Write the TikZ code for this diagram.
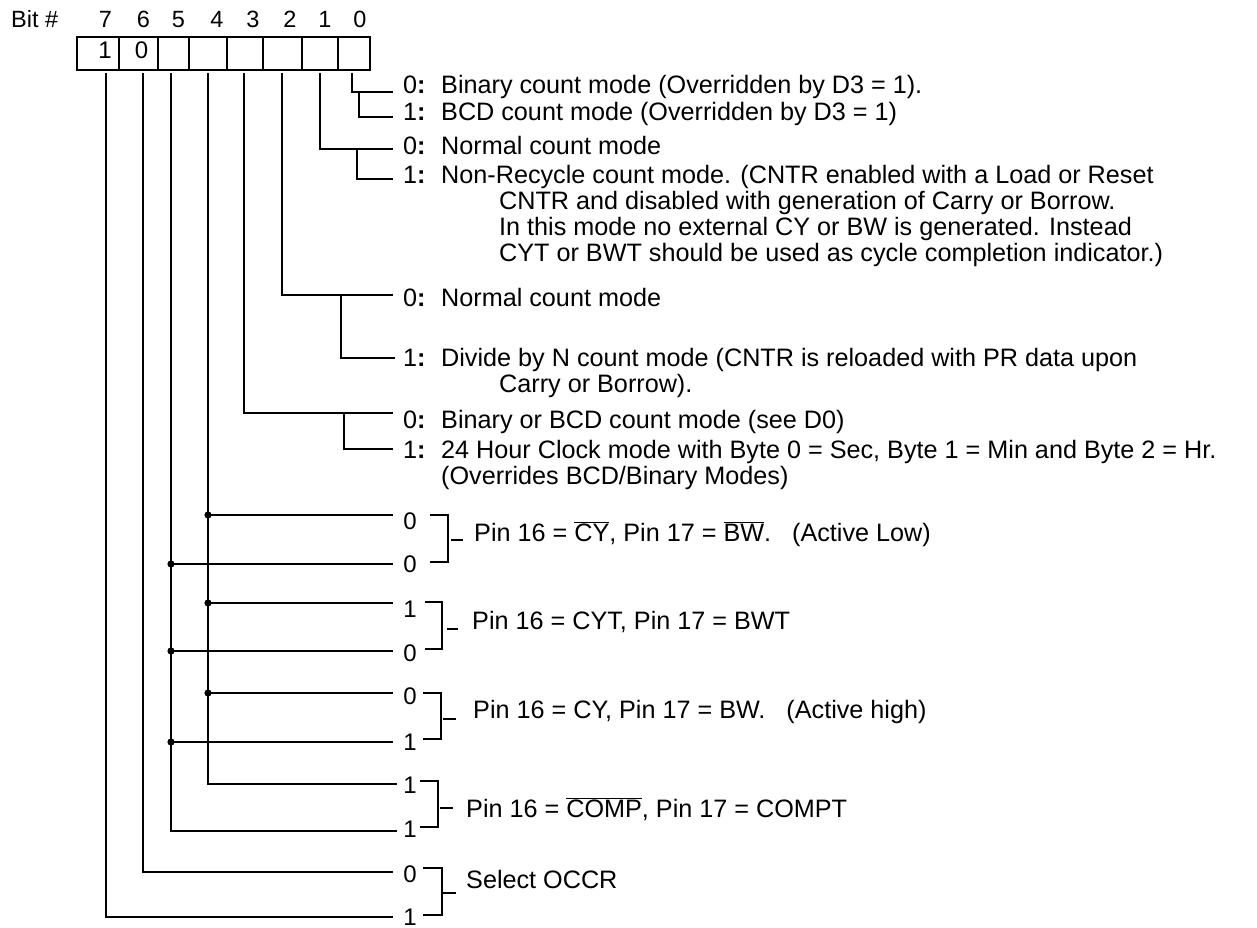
\documentclass[tikz,border=0pt]{standalone}
\usepackage{fontspec}
\setmainfont{Liberation Sans}
\newcommand\ovl[1]{\ensuremath{\overline{\hbox{#1}}}}
\newcommand\lbl[1]{\makebox[38bp][l]{#1\textbf{:}}}
\tikzset{
  wire/.style={line width=2bp},
  desc/.style={anchor=base west, inner sep=0pt, font=\fontsize{25.2bp}{26bp}\selectfont},
  dig/.style={anchor=base, inner sep=0pt, font=\fontsize{24bp}{25bp}\selectfont},
  hdr/.style={anchor=base, inner sep=0pt, font=\fontsize{23.5bp}{24bp}\selectfont},
}
\begin{document}
\begin{tikzpicture}[x=1bp,y=-1bp]
\useasboundingbox (0,0) rectangle (1257,928);
% header
\node[hdr, anchor=base west] (bit) at (11,27) {Bit \#};
\foreach \n/\x in {7/105.5,6/143.3,5/178.3,4/217,3/253,2/290,1/325,0/360}
  \node[hdr] (h\n) at (\x,27) {\n};
% register box
\draw[wire] (77,37) rectangle (370,70);
\foreach \x in {119,158,189,227,263,302,338}
  \draw[wire] (\x,37) -- (\x,70);
\node[dig] (v7) at (105,58) {1};
\node[dig] (v6) at (141.5,58) {0};
% bit line tops
\foreach \n/\x in {7/106,6/143,5/171,4/208,3/244,2/282,1/320,0/352}
  \coordinate (b\n) at (\x,73);
% text nodes (descriptions)
\node[desc] (t1) at (403,93) {\lbl{0}Binary count mode (Overridden by D3 = 1).};
\node[desc] (t2) at (403,120) {\lbl{1}BCD count mode (Overridden by D3 = 1)};
\node[desc] (t3) at (403,154) {\lbl{0}Normal count mode};
\node[desc] (t4) at (403,183) {\lbl{1}Non-Recycle count mode. (CNTR enabled with a Load or Reset};
\node[desc] (t5) at (499,209) {CNTR and disabled with generation of Carry or Borrow.};
\node[desc] (t6) at (499,235) {In this mode no external CY or BW is generated. Instead};
\node[desc] (t7) at (499,261) {CYT or BWT should be used as cycle completion indicator.)};
\node[desc] (t8) at (403,306) {\lbl{0}Normal count mode};
\node[desc] (t9) at (403,366) {\lbl{1}Divide by N count mode (CNTR is reloaded with PR data upon};
\node[desc] (t10) at (499,392) {Carry or Borrow).};
\node[desc] (t11) at (403,428) {\lbl{0}Binary or BCD count mode (see D0)};
\node[desc] (t12) at (403,458) {\lbl{1}24 Hour Clock mode with Byte 0 = Sec, Byte 1 = Min and Byte 2 = Hr.};
\node[desc] (t13) at (441,484) {(Overrides BCD/Binary Modes)};
% line ends
\coordinate (e0a) at (393,92);  \coordinate (e0b) at (393,117);
\coordinate (e1a) at (393,149); \coordinate (e1b) at (393,179);
\coordinate (e2a) at (393,295); \coordinate (e2b) at (395,358);
\coordinate (e3a) at (393,413); \coordinate (e3b) at (393,449);
% bit 0..3
\draw[wire] (b0) |- (e0a); \draw[wire] (359,92) |- (e0b);
\draw[wire] (b1) |- (e1a); \draw[wire] (357,149) |- (e1b);
\draw[wire] (b2) |- (e2a); \draw[wire] (341,295) |- (e2b);
\draw[wire] (b3) |- (e3a); \draw[wire] (344,413) |- (e3b);
% bits 4 and 5
\foreach \i/\y in {1/515,2/603,3/693}{
  \coordinate (e4\i) at (393,\y);
  \coordinate (d4\i) at (208,\y);
  \fill (d4\i) circle (3.6);
  \draw[wire] (d4\i) -- (e4\i);
}
\foreach \i/\y in {1/564,2/651,3/742}{
  \coordinate (e5\i) at (393,\y);
  \coordinate (d5\i) at (171,\y);
  \fill (d5\i) circle (3.6);
  \draw[wire] (d5\i) -- (e5\i);
}
\coordinate (e44) at (397,784);
\coordinate (e54) at (397,831);
\draw[wire] (b4) |- (e44);
\draw[wire] (b5) |- (e54);
% bits 6, 7
\coordinate (e6) at (393,872);
\coordinate (e7) at (393,917);
\draw[wire] (b6) |- (e6);
\draw[wire] (b7) |- (e7);
% digit labels
\foreach \n/\d/\y in {a/0/529,b/0/572,c/1/617,d/0/661,e/0/704,f/1/750,g/1/793,h/1/837,i/0/882,j/1/925}
  \node[dig] (g\n) at (410,\y) {\d};
% brackets
\draw[wire] (430,515) -- (448,515) -- (448,562) -- (430,562); \draw[wire] (451,540) -- (463,540);
\draw[wire] (425,602) -- (442,602) -- (442,649) -- (425,649); \draw[wire] (447,629) -- (458,629);
\draw[wire] (423,693) -- (441,693) -- (441,739) -- (423,739); \draw[wire] (443,719) -- (456,719);
\draw[wire] (420,781) -- (438,781) -- (438,827) -- (420,827); \draw[wire] (440,808) -- (453,808);
\draw[wire] (423,868) -- (442,868) -- (442,915) -- (423,915); \draw[wire] (443,893) -- (456,893);
% pair texts
\node[desc] (p1) at (474,541) {Pin 16 = \ovl{CY}, Pin 17 = \ovl{BW}.\hspace{21bp}(Active Low)};
\node[desc] (p2) at (472,629) {Pin 16 = CYT, Pin 17 = BWT};
\node[desc] (p3) at (473,718) {Pin 16 = CY, Pin 17 = BW.\hspace{21bp}(Active high)};
\node[desc] (p4) at (466,817) {Pin 16 = \ovl{COMP}, Pin 17 = COMPT};
\node[desc] (p5) at (466,888) {Select OCCR};
\end{tikzpicture}
\end{document}
